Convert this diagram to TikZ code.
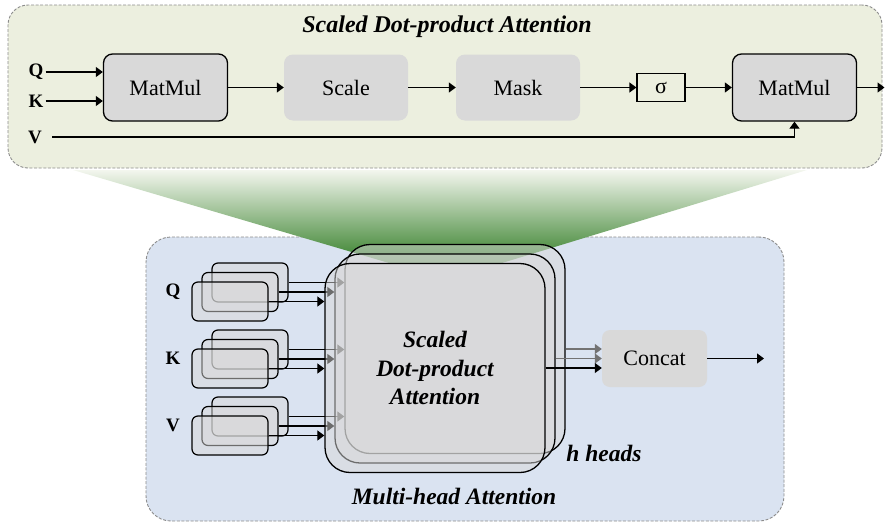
\documentclass[tikz,border=0pt]{standalone}
\usepackage{fontspec}
\setmainfont{Liberation Serif}
\usetikzlibrary{arrows.meta}
\definecolor{panelgreen}{HTML}{ECEFDF}
\definecolor{panelblue}{HTML}{DAE3F1}
\definecolor{boxgray}{HTML}{D9D9D9}
\definecolor{borderdash}{HTML}{8C8C8C}
\definecolor{zoomtop}{HTML}{F3F6EE}
\definecolor{zoommid}{HTML}{A9C48B}
\definecolor{zoombot}{HTML}{36802A}
\pgfdeclarelayer{panels}
\pgfdeclarelayer{headA}
\pgfdeclarelayer{headAbig}
\pgfdeclarelayer{headB}
\pgfdeclarelayer{headBbig}
\pgfdeclarelayer{headC}
\pgfdeclarelayer{headCbig}
\pgfsetlayers{panels,headA,headAbig,headB,headBbig,headC,headCbig,main}
\begin{document}
\begin{tikzpicture}[x=1pt, y=-1pt,
  panel/.style={draw=borderdash, dash pattern=on 3pt off 1.6pt, line width=0.9pt, inner sep=0pt},
  opbox/.style={fill=boxgray, rounded corners=9pt, inner sep=0pt, font=\fontsize{22}{26}\selectfont,
    minimum width=124pt, minimum height=66pt},
  outlined/.style={draw=black, line width=1.3pt},
  arr/.style={line width=1.2pt, -{Triangle[length=7pt,width=10pt]}},
  lbl/.style={font=\fontsize{19}{22}\selectfont\bfseries, inner sep=2pt},
  caption/.style={font=\fontsize{23.5}{28.5}\selectfont\bfseries\itshape, inner sep=0pt, align=center},
  headbig/.style={draw=black, line width=1.3pt, fill=boxgray, fill opacity=0.5, text opacity=1,
    rounded corners=25pt, minimum width=220pt, minimum height=209pt, inner sep=0pt},
  headsmall/.style={draw=black, line width=1.2pt, fill=boxgray, fill opacity=0.5,
    rounded corners=6pt, minimum width=76pt, minimum height=39pt, inner sep=0pt},
]
\useasboundingbox (0,0) rectangle (885,525);

% ---------- upper panel: scaled dot-product attention ----------
\node[panel, fill=panelgreen, rounded corners=20pt, minimum width=874pt, minimum height=163pt] (sdpa) at (445,86.5) {};
\node[caption, font=\fontsize{24}{28}\selectfont\bfseries\itshape] (sdpatitle) at (447,27) {Scaled Dot-product Attention};

\node[lbl] (q1) at (36,72) {Q};
\node[lbl] (k1) at (36,101) {K};
\node[lbl] (v1) at (35,137) {V};
\node[opbox, outlined, minimum height=67pt] (mm1) at (165.5,87.5) {MatMul};
\node[opbox] (scale) at (346,87.5) {Scale};
\node[opbox] (mask) at (518,87.5) {Mask};
\node[draw, line width=1.2pt, minimum width=48pt, minimum height=28pt, inner sep=0pt,
  font=\fontsize{22}{24}\selectfont] (sig) at (661,87.5) {σ};
\node[opbox, outlined, minimum height=67pt] (mm2) at (794.5,87.5) {MatMul};
\coordinate (out1) at (884.5,87.5);

\draw[arr] (q1.east) -- (q1.east -| mm1.west);
\draw[arr] (k1.east) -- (k1.east -| mm1.west);
\draw[arr] (mm1) -- (scale);
\draw[arr] (scale) -- (mask);
\draw[arr] (mask) -- (sig);
\draw[arr] (sig) -- (mm2);
\draw[arr] (mm2) -- (out1);
\draw[arr, shorten <=8pt] (v1.east) -| (mm2.south);

% ---------- lower panel: multi-head attention ----------
\begin{pgfonlayer}{panels}
\node[panel, fill=panelblue, rounded corners=25pt, minimum width=638pt, minimum height=284pt] (mha) at (465,379) {};
\shade[top color=zoomtop, middle color=zoommid, bottom color=zoombot]
  (73,170) -- (807,170) -- (502,263) -- (389,263) -- cycle;
\end{pgfonlayer}

% stacked attention heads, back to front
\begin{pgfonlayer}{headAbig}
\node[headbig] (bigA) at (455,349) {};
\end{pgfonlayer}
\begin{pgfonlayer}{headBbig}
\node[headbig] (bigB) at (445,358.5) {};
\end{pgfonlayer}
\begin{pgfonlayer}{headCbig}
\node[headbig, caption, font=\fontsize{23.5}{28.5}\selectfont\bfseries\itshape] (bigC) at (435,368) {Scaled\\Dot-product\\Attention};
\end{pgfonlayer}

\begin{pgfonlayer}{headA}
\node[headsmall] (qA) at (250,282.5) {};
\node[headsmall] (kA) at (250,349.5) {};
\node[headsmall] (vA) at (250,416.5) {};
\draw[arr] (qA.east) -- (qA.east -| bigA.west);
\draw[arr] (kA.east) -- (kA.east -| bigA.west);
\draw[arr] (vA.east) -- (vA.east -| bigA.west);
\end{pgfonlayer}
\begin{pgfonlayer}{headB}
\node[headsmall] (qB) at (240,292) {};
\node[headsmall] (kB) at (240,359) {};
\node[headsmall] (vB) at (240,426) {};
\draw[arr] (qB.east) -- (qB.east -| bigB.west);
\draw[arr] (kB.east) -- (kB.east -| bigB.west);
\draw[arr] (vB.east) -- (vB.east -| bigB.west);
\end{pgfonlayer}
\begin{pgfonlayer}{headC}
\node[headsmall] (qC) at (230,301.5) {};
\node[headsmall] (kC) at (230,368.5) {};
\node[headsmall] (vC) at (230,435.5) {};
\draw[arr] (qC.east) -- (qC.east -| bigC.west);
\draw[arr] (kC.east) -- (kC.east -| bigC.west);
\draw[arr] (vC.east) -- (vC.east -| bigC.west);
\end{pgfonlayer}

\node[lbl] (qlab) at (173,292) {Q};
\node[lbl] (klab) at (173,358) {K};
\node[lbl] (vlab) at (173,425) {V};

\node[opbox, minimum width=105pt, minimum height=57pt, rounded corners=8pt] (concat) at (654.5,358.5) {Concat};
\coordinate (out2) at (764,358.5);
\draw[arr, black!55] (bigA.east) -- (bigA.east -| concat.west);
\draw[arr, black!55] (bigB.east) -- (bigB.east -| concat.west);
\draw[arr] (bigC.east) -- (bigC.east -| concat.west);
\draw[arr] (concat) -- (out2);

\node[caption] (heads) at (604,453) {h heads};
\node[caption] (mhatitle) at (454,496) {Multi-head Attention};
\end{tikzpicture}
\end{document}
